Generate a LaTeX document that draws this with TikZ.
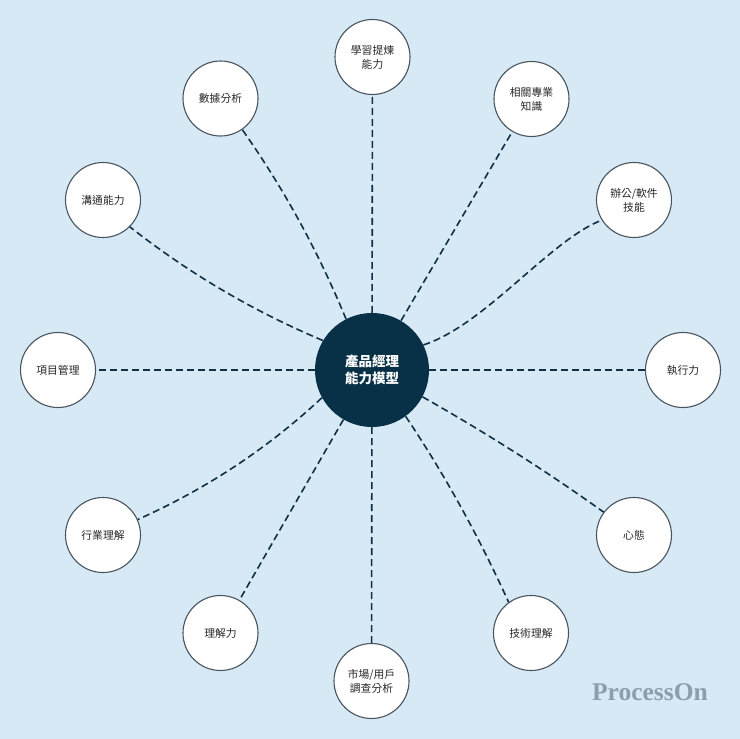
\documentclass[tikz,border=0pt]{standalone}
\usepackage{fontspec}
\setmainfont{Noto Sans CJK TC}
\newfontfamily\wmfont{Liberation Serif}
\definecolor{bgblue}{RGB}{214,233,245}
\definecolor{navy}{RGB}{8,48,70}
\definecolor{linenavy}{RGB}{16,48,70}
\definecolor{rimgray}{RGB}{72,84,94}
\definecolor{txtgray}{RGB}{40,40,40}
\definecolor{wmgray}{RGB}{140,158,171}
\begin{document}
\begin{tikzpicture}[x=1pt,y=-1pt,
  leaf/.style={circle,draw=rimgray,line width=1.1pt,fill=white,minimum size=75pt,inner sep=0pt,
    align=center,text=txtgray,font=\fontsize{10.8}{14}\selectfont},
  hub/.style={circle,fill=navy,minimum size=114pt,inner sep=0pt,align=center,text=white,
    font=\fontsize{13.5}{17.5}\selectfont\bfseries},
  link/.style={draw=linenavy,line width=1.6pt,dash pattern=on 7pt off 4pt}]
\useasboundingbox (0,0) rectangle (740,739);
\fill[bgblue] (0,0) rectangle (740,739);

\node[hub] (c) at (372,370) {產品經理\\能力模型};

\node[leaf] (n1)  at (372.5,57)  {學習提煉\\能力};
\node[leaf] (n2)  at (531.5,99)  {相關專業\\知識};
\node[leaf] (n3)  at (634,200)   {辦公/軟件\\技能};
\node[leaf] (n4)  at (683,370)   {執行力};
\node[leaf] (n5)  at (634,535)   {心態};
\node[leaf] (n6)  at (531,633)   {技術理解};
\node[leaf] (n7)  at (371.5,681) {市場/用戶\\調查分析};
\node[leaf] (n8)  at (220.5,633) {理解力};
\node[leaf] (n9)  at (103,535)   {行業理解};
\node[leaf] (n10) at (58,370)    {項目管理};
\node[leaf] (n11) at (103,200)   {溝通能力};
\node[leaf] (n12) at (220.5,98.5) {數據分析};

\path[link] (c) -- (n1);
\path[link] (c) -- (n2);
\path[link] (c.26) .. controls (485,325) and (550,240) .. (n3.212);
\path[link] (c) -- (n4);
\path[link] (c.332) .. controls (481,430) and (542,468) .. (n5.143);
\path[link] (c.306) .. controls (445,475) and (479,537) .. (n6.126);
\path[link] (c) -- (n7);
\path[link] (c) -- (n8);
\path[link] (c.209) .. controls (268,448) and (208,488) .. (n9.24);
\path[link] (c) -- (n10);
\path[link] (c.149) .. controls (253,311) and (190,274) .. (n11.315);
\path[link] (c.117) .. controls (318,251) and (284,189) .. (n12.305);

\node[text=wmgray,font=\wmfont\bfseries\fontsize{25.5}{28}\selectfont,inner sep=0pt] (wm) at (650,692) {ProcessOn};
\end{tikzpicture}
\end{document}
